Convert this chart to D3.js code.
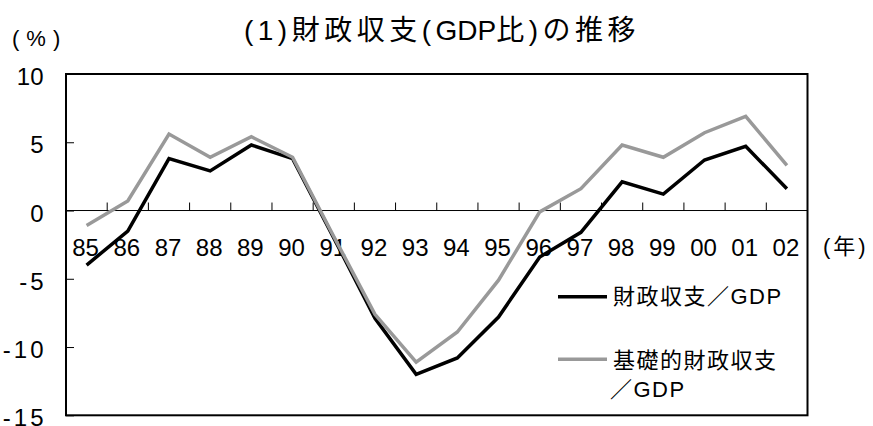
<!DOCTYPE html>
<html><head><meta charset="utf-8">
<script src="https://cdn.jsdelivr.net/npm/d3@7"></script>
<style>
body{margin:0;background:#fff;}
text{font-family:"Liberation Sans","Noto Sans CJK JP",sans-serif;fill:#000;}
</style></head>
<body>
<svg id="c" width="873" height="426"></svg>
<script>
const years = ["85","86","87","88","89","90","91","92","93","94","95","96","97","98","99","00","01","02"];
const balance = [-4.0,-1.5,3.8,2.9,4.8,3.8,-2.0,-7.9,-12.0,-10.8,-7.8,-3.4,-1.6,2.1,1.2,3.7,4.7,1.6];
const primaryBalance = [-1.1,0.7,5.6,3.9,5.4,3.9,-1.9,-7.6,-11.1,-8.9,-5.1,-0.1,1.6,4.8,3.9,5.7,6.9,3.3];
const yTicks = [10,5,0,-5,-10,-15];
const seriesNames = ["財政収支／GDP", "基礎的財政収支", "／GDP"];
const titleParts = ["(1)財政収支(", "GDP", "比)の推移"];

const svg = d3.select("#c");
const L = 66, R = 807.5, T = 74, B = 415.3;
const x = d3.scaleBand().domain(years).range([L, R]);
const y = d3.scaleLinear().domain([-15, 10]).range([B, T]);

// title and unit labels
const tt = svg.append("text").attr("x", 442).attr("y", 40).attr("text-anchor", "middle")
  .style("font-size", "28px");
tt.selectAll("tspan").data(titleParts).join("tspan")
  .style("letter-spacing", (d, i) => i === 1 ? "0px" : "4.5px").text(d => d);
svg.append("text").attr("x", 12).attr("y", 46).style("font-size", "22px")
  .style("letter-spacing", "7px").text("(%)");
svg.append("text").attr("x", 823).attr("y", 254).style("font-size", "22px")
  .style("letter-spacing", "3px").text("(年)");

// y axis ticks (inward)
const yAxis = d3.axisLeft(y).tickValues(yTicks).tickSize(-8).tickFormat("");
const gy = svg.append("g").attr("transform", `translate(${L},0)`).call(yAxis);
gy.select(".domain").remove();
gy.selectAll(".tick line").attr("stroke", "#000").attr("stroke-width", 1);

// y labels
svg.append("g").selectAll("text").data(yTicks).join("text")
  .attr("x", d => d < 0 ? 46.5 : 43.5).attr("y", d => y(d)).attr("dy", "0.46em")
  .attr("text-anchor", "end").style("font-size", "24px")
  .style("letter-spacing", d => d < 0 ? "3px" : null)
  .text(d => d3.format("d")(d).replace("−", "-"));

// zero line with category boundary ticks
const zeroY = y(0);
svg.append("line").attr("x1", L).attr("x2", R).attr("y1", zeroY).attr("y2", zeroY)
  .attr("stroke", "#000").attr("stroke-width", 1);
svg.append("g").selectAll("line").data(years.slice(1)).join("line")
  .attr("x1", d => x(d)).attr("x2", d => x(d))
  .attr("y1", zeroY).attr("y2", zeroY - 8).attr("stroke", "#000").attr("stroke-width", 1);

// x labels
svg.append("g").selectAll("text").data(years).join("text")
  .attr("x", d => x(d) + x.bandwidth() / 2 - 1).attr("y", 256)
  .attr("text-anchor", "middle").style("font-size", "24px").text(d => d);

// lines
const line = d3.line().x((d, i) => x(years[i]) + x.bandwidth() / 2).y(d => y(d));
svg.append("path").datum(balance).attr("d", line).attr("fill", "none")
  .attr("stroke", "#000").attr("stroke-width", 3.5).attr("stroke-linejoin", "miter");
svg.append("path").datum(primaryBalance).attr("d", line).attr("fill", "none")
  .attr("stroke", "#999").attr("stroke-width", 3.5).attr("stroke-linejoin", "miter");

// frame
svg.append("rect").attr("x", L).attr("y", T).attr("width", R - L).attr("height", B - T)
  .attr("fill", "none").attr("stroke", "#000").attr("stroke-width", 2);

// legend
const lg = svg.append("g");
lg.append("line").attr("x1", 558).attr("x2", 607).attr("y1", 296.7).attr("y2", 296.7)
  .attr("stroke", "#000").attr("stroke-width", 3.5);
lg.append("text").attr("x", 613).attr("y", 304).style("font-size", "22px")
  .style("letter-spacing", "1.5px").text(seriesNames[0]);
lg.append("line").attr("x1", 558).attr("x2", 607).attr("y1", 359.3).attr("y2", 359.3)
  .attr("stroke", "#999").attr("stroke-width", 3.5);
lg.append("text").attr("x", 613).attr("y", 368).style("font-size", "22px")
  .style("letter-spacing", "1.5px").text(seriesNames[1]);
lg.append("text").attr("x", 610).attr("y", 397).style("font-size", "22px")
  .style("letter-spacing", "1.5px").text(seriesNames[2]);
</script>
</body></html>
